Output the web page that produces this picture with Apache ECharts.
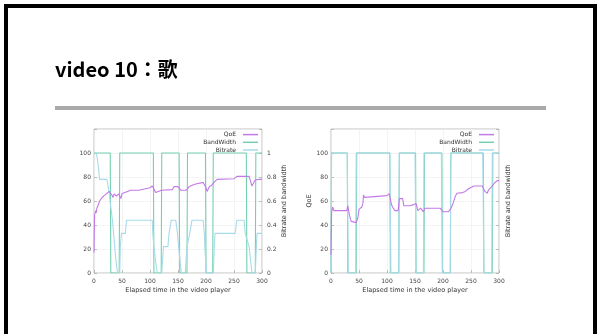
<!DOCTYPE html>
<html><head><meta charset="utf-8">
<script src="https://cdn.jsdelivr.net/npm/echarts@6/dist/echarts.min.js"></script>
<style>html,body{margin:0;padding:0;background:#fff}#c{width:601px;height:334px}</style>
</head><body><div id="c"></div>
<script>
const titleText = 'video 10：歌';
const xTicks = [0, 50, 100, 150, 200, 250, 300];
const seriesNames = ['QoE', 'BandWidth', 'Bitrate'];

// Chart 1 (left)
const qoe1 = [[0,17],[1,48],[2,50],[3,52],[4,50],[5,54],[7,56],[10,60],[13,62],[17,64],[22,66],[27,68],[30,67],[32,65],[34,63],[36,66],[38,65],[40,64],[44,66],[46,65],[48,62],[50,66],[55,67],[60,68],[65,69],[80,69],[90,70],[100,71],[104,72.5],[107,70],[110,67],[115,68],[120,69],[140,69.5],[143,72],[150,72],[155,69],[165,69],[170,72],[180,74],[195,75.5],[198,76],[200,71],[202,68],[204,70],[206,72],[210,73],[215,76],[220,78],[250,78.5],[255,80.5],[277,80.5],[279,79],[282,72.5],[285,73],[288,77.5],[290,76],[295,78],[300,78]];
const bw1 = [[0,1],[29,1],[30,0],[45,0],[46,1],[106,1],[107,0],[120,0],[121,1],[152,1],[153,0],[166,0],[167,1],[199,1],[200,0],[212,0],[213,1],[272,1],[273,0],[288,0],[289,1],[300,1]];
const br1 = [[0,1],[4,1],[6,0.95],[8,0.88],[10,0.78],[23,0.78],[26,0.7],[30,0.55],[33,0.44],[35,0.33],[37,0.22],[39,0.11],[42,0],[46,0],[47,0.22],[49,0.33],[56,0.33],[58,0.44],[104,0.44],[105,0.33],[107,0.22],[110,0.1],[113,0],[121,0],[124,0.22],[132,0.22],[134,0.33],[138,0.44],[146,0.44],[149,0.33],[151,0.22],[156,0],[163,0],[166,0.22],[171,0.33],[175,0.44],[195,0.44],[197,0.33],[198,0.2],[201,0],[213,0],[216,0.33],[252,0.33],[255,0.44],[268,0.44],[270,0.33],[273,0.33],[277,0.22],[282,0],[288,0],[291,0.33],[300,0.33]];

// Chart 2 (right)
const qoe2 = [[0,15],[1,50],[3,55],[5,52],[28,52],[30,56],[31,56],[33,48],[36,43],[45,42],[48,46],[50,53],[55,55],[57,58],[58,65],[60,63],[62,64],[100,64.5],[104,66],[106,66],[108,57],[110,55],[114,52],[120,52],[122,62],[128,62],[130,56],[140,56],[148,57],[152,58],[155,52],[160,54],[165,51],[168,54],[195,54],[196,55],[200,51],[210,51],[213,53],[218,58],[222,64],[225,66.5],[235,67],[240,68],[245,70],[255,72.5],[270,72.5],[275,68],[279,66.5],[281,69],[283,68],[287,72],[292,75],[297,77],[300,77]];
const bw2 = [[0,0],[1,1],[29,1],[30,0],[45,0],[46,1],[105,1],[106,0],[121,0],[122,1],[151,1],[152,0],[166,0],[167,1],[198,1],[199,0],[213,0],[214,1],[272,1],[273,0],[288,0],[289,1],[300,1]];
const br2 = [[0,0],[1,1],[29,1],[31,0],[44,0],[45,1],[105,1],[107,0],[121,0],[122,1],[150,1],[152,0],[165,0],[166,1],[197,1],[199,0],[213,0],[214,1],[271,1],[273,0],[287,0],[288,1],[300,1]];

const colors = ['#c37ae6', '#74d1ae', '#a7dbec'];
const FONT = 'DejaVu Sans';
const chart = echarts.init(document.getElementById('c'));

function xAxis(gi) {
  return {
    type: 'value', gridIndex: gi, min: 0, max: 300, interval: 50,
    name: 'Elapsed time in the video player', nameLocation: 'middle', nameGap: 14,
    nameTextStyle: {fontSize: 6.5, color: '#333', fontFamily: FONT},
    axisLine: {show: false}, axisTick: {show: true, inside: true, length: 3, lineStyle: {color: '#888', width: 0.5}},
    axisLabel: {fontSize: 6, color: '#444', margin: 5, fontFamily: FONT,
      customValues: xTicks},
    splitLine: {show: true, lineStyle: {color: '#ececec', width: 0.6}}
  };
}
function yLeft(gi, name) {
  return {
    type: 'value', gridIndex: gi, min: 0, max: 120, interval: 20, position: 'left',
    name: name, nameLocation: 'middle', nameGap: 17, nameRotate: 90,
    nameTextStyle: {fontSize: 6.5, color: '#333', fontFamily: FONT},
    axisLine: {show: false}, axisTick: {show: true, inside: true, length: 3, lineStyle: {color: '#888', width: 0.5}},
    axisLabel: {fontSize: 6, color: '#444', margin: 3, fontFamily: FONT,
      formatter: v => v > 100 ? '' : String(v)},
    splitLine: {show: true, lineStyle: {color: '#ececec', width: 0.6}}
  };
}
function yRight(gi, showLabels, gap) {
  return {
    type: 'value', gridIndex: gi, min: 0, max: 1.2, interval: 0.2, position: 'right',
    name: 'Bitrate and bandwidth', nameLocation: 'middle', nameGap: gap, nameRotate: 90,
    nameTextStyle: {fontSize: 6.5, color: '#333', fontFamily: FONT},
    axisLine: {show: false}, axisTick: {show: true, inside: true, length: 3, lineStyle: {color: '#888', width: 0.5}},
    axisLabel: {show: showLabels, fontSize: 6, color: '#444', margin: 5, fontFamily: FONT,
      formatter: v => v > 1.01 ? '' : String(Math.round(v * 10) / 10)},
    splitLine: {show: false}
  };
}
function legend(right) {
  return {
    data: seriesNames, orient: 'vertical', right: right, top: 131, align: 'right',
    icon: 'rect', itemWidth: 15, itemHeight: 1.5, itemGap: 0.5,
    textStyle: {fontSize: 6, color: '#333', fontFamily: FONT, lineHeight: 7.2, padding: [0, 2, 0, 0]},
    padding: 0
  };
}
function line(name, data, xi, yi, color, z) {
  return {type: 'line', name: name, data: data, xAxisIndex: xi, yAxisIndex: yi,
    showSymbol: false, symbol: 'none', lineStyle: {color: color, width: 1.1}, itemStyle: {color: color},
    z: z, animation: false};
}

chart.setOption({
  animation: false,
  color: colors,
  title: {text: titleText, left: 50, top: 54,
    textStyle: {fontSize: 20, fontWeight: 'bold', color: '#000', fontFamily: 'Noto Sans CJK JP'}},
  graphic: [
    {type: 'rect', shape: {x: 6, y: 6, width: 589, height: 345}, style: {fill: 'none', stroke: '#000', lineWidth: 4}, silent: true},
    {type: 'rect', shape: {x: 55, y: 106, width: 491, height: 4}, style: {fill: '#a9a9a9'}, silent: true}
  ],
  grid: [
    {left: 94, top: 129, width: 168, height: 144, show: true, borderColor: '#999', borderWidth: 0.6, backgroundColor: 'transparent'},
    {left: 331, top: 129, width: 168, height: 144, show: true, borderColor: '#999', borderWidth: 0.6, backgroundColor: 'transparent'}
  ],
  legend: [legend(343), legend(107)],
  xAxis: [xAxis(0), xAxis(1)],
  yAxis: [yLeft(0, ''), yRight(0, true, 17), yLeft(1, 'QoE'), yRight(1, false, 6)],
  series: [
    line('BandWidth', bw1, 0, 1, colors[1], 2),
    line('Bitrate', br1, 0, 1, colors[2], 3),
    line('QoE', qoe1, 0, 0, colors[0], 4),
    line('BandWidth', bw2, 1, 3, colors[1], 2),
    line('Bitrate', br2, 1, 3, colors[2], 3),
    line('QoE', qoe2, 1, 2, colors[0], 4)
  ]
});
</script></body></html>
